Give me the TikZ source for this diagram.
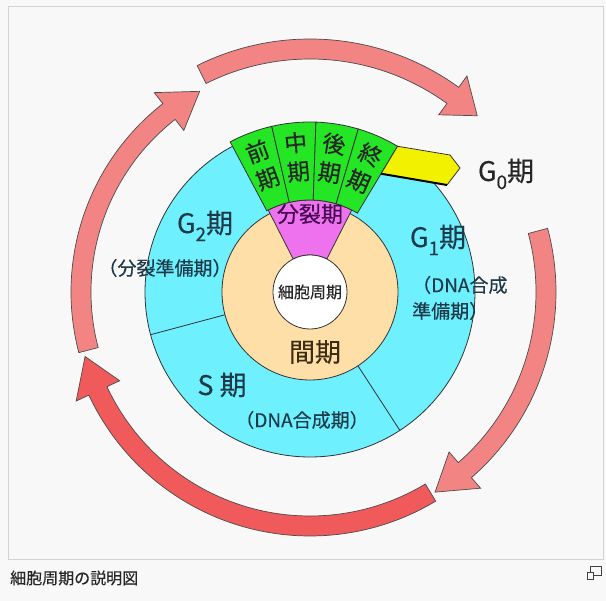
\documentclass[tikz,border=0pt]{standalone}
\usepackage{fontspec}
\setmainfont{Noto Sans CJK JP}[FakeBold=0.3]
\usepackage{xcolor}
\usetikzlibrary{positioning}
\definecolor{bgpanel}{HTML}{F8F8F8}
\definecolor{framegray}{HTML}{D2D2D2}
\definecolor{ringcyan}{HTML}{6EF0FF}
\definecolor{ringbeige}{HTML}{FFDFA8}
\definecolor{splitpink}{HTML}{EE72EE}
\definecolor{mitgreen}{HTML}{24E624}
\definecolor{gzeroyellow}{HTML}{F2F200}
\definecolor{arrowsalmon}{HTML}{F28484}
\definecolor{arrowred}{HTML}{F05A5A}
\definecolor{labelink}{HTML}{1E3A48}
\tikzset{phase/.style={font=\fontsize{27}{27}\selectfont, text=labelink, inner sep=0pt},
note/.style={font=\fontsize{19}{22}\selectfont, text=labelink, inner sep=0pt},
stage/.style={font=\fontsize{23}{23}\selectfont, text=black!85, inner sep=0pt},
ringline/.style={draw=black!80, line width=0.8pt}}
\newcommand\lowidx[1]{\raisebox{-0.3em}{\fontsize{19}{19}\selectfont #1}}
\newcommand\cyclearrow[5]{%
\filldraw[#5] ({#1}:{#4+10}) arc[start angle={#1}, end angle={#2}, radius={#4+10}]
 -- ({#2}:{#4+24}) -- ({#3}:{#4}) -- ({#2}:{#4-24}) -- ({#2}:{#4-10})
 arc[start angle={#2}, end angle={#1}, radius={#4-10}] -- cycle;}

\begin{document}
\begin{tikzpicture}[x=1pt, y=1pt, cyc/.style={draw=black!70, line width=0.7pt, fill=arrowsalmon}]
\useasboundingbox (-310,-309) rectangle (296,292);
\fill[bgpanel] (-310,-309) rectangle (296,292);
\draw[framegray] (-302,286) rectangle (293,-267);
% arrows round the cycle
\cyclearrow{116.5}{54}{46.5}{243}{cyc}
\cyclearrow{15}{-49}{-58}{236}{cyc}
\cyclearrow{-59}{-155}{-164}{234}{cyc, fill=arrowred}
\cyclearrow{194.7}{128}{118.8}{229}{cyc}
% rings
\filldraw[ringline, fill=ringcyan] (0,0) circle[radius=165];
\draw[ringline] (195:88) -- (195:165);
\draw[ringline] (-57:88) -- (-57:165);
\filldraw[ringline, fill=ringbeige] (0,0) circle[radius=88];
\filldraw[ringline, fill=splitpink] (63:37) arc[start angle=63, end angle=117, radius=37]
 -- (117:92) arc[start angle=117, end angle=63, radius=92] -- cycle;
\foreach \from/\to/\chr [count=\i] in {103/118/前, 88/103/中, 73.5/88/後, 59/73.5/終} {
 \filldraw[ringline, fill=mitgreen] (\from:92) arc[start angle=\from, end angle=\to, radius=92]
  -- (\to:170) arc[start angle=\to, end angle=\from, radius=170] -- cycle;
 \node[stage, rotate={(\from+\to)/2-90}] (stage\i-top) at ({(\from+\to)/2}:150) {\chr};
 \node[stage, rotate={(\from+\to)/2-90}] (stage\i-bot) at ({(\from+\to)/2}:121) {期};
}
\filldraw[ringline, fill=gzeroyellow] (59:170) -- (140,137) -- (150,124) -- (137,107) -- (59:138) -- cycle;
\draw[line width=2pt] (59:138) -- (137,107);
\filldraw[ringline, fill=white] (0,0) circle[radius=37];
% labels
\node[font=\fontsize{16}{16}\selectfont, text=black!85, inner sep=0pt] (cycle) at (0,0) {細胞周期};
\node[font=\fontsize{22}{22}\selectfont, text={rgb,255:red,70;green,10;blue,80}, inner sep=0pt] (split) at (0,78) {分裂期};
\node[font=\fontsize{26}{26}\selectfont, text={rgb,255:red,60;green,45;blue,20}, inner sep=0pt] (inter) at (5,-60) {間期};
\node[phase] (gtwo) at (-105,66) {G\lowidx{2}期};
\node[note] (gtwonote) at (-145,24) {（分裂準備期）};
\node[phase] (gone) at (128,52) {G\lowidx{1}期};
\node[note, anchor=west] (gonenote) at (102,7) {（DNA合成};
\node[note, anchor=west] (gonenote2) at (102,-19) {準備期）};
\node[phase] (sphase) at (-88,-93) {S 期};
\node[note] (sphasenote) at (-8,-128) {（DNA合成期）};
\node[phase, text=black!85] (gzero) at (196,118) {G\lowidx{0}期};
% caption
\node[font=\fontsize{16}{16}\selectfont, text=black!85, inner sep=0pt, anchor=west] (caption) at (-300,-286) {細胞周期の説明図};
\draw[black!75] (280,-274) rectangle (291,-283);
\filldraw[black!75, fill=bgpanel] (277,-280) rectangle (283,-287);
\end{tikzpicture}
\end{document}
